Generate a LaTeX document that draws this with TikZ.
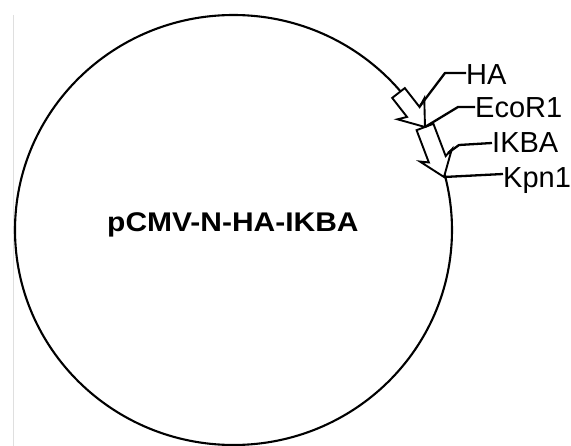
\documentclass[tikz,border=0pt]{standalone}
\usepackage{fontspec}
\setmainfont{Liberation Sans}
\usetikzlibrary{calc}
\tikzset{
  ring/.style={line width=2.1pt, black},
  block/.style={line width=1.9pt, fill=white, line join=miter},
  leader/.style={line width=2.3pt, line join=round},
  lbl/.style={anchor=base west, inner sep=0pt, font=\fontsize{29}{30}\selectfont},
}
% tail, tip, half body width, half head width, head length, barb sweep
\newcommand\blockarrow[6]{%
  \coordinate (bT) at (#1);
  \coordinate (bP) at (#2);
  \coordinate (bH) at ($(bP)!#5!(bT)$);
  \coordinate (bB) at ($(bP)!#5+#6!(bT)$);
  \draw[block] ($(bT)!#3!90:(bP)$) -- ($(bH)!#3!-90:(bT)$) -- ($(bB)!#4!-90:(bT)$)
     -- (bP) -- ($(bB)!#4!90:(bT)$) -- ($(bH)!#3!90:(bT)$) -- ($(bT)!#3!-90:(bP)$) -- cycle;
}
\begin{document}
\begin{tikzpicture}[x=1pt,y=-1pt]
\useasboundingbox (0,0) rectangle (571,446);
\fill[white] (0,0) rectangle (571,446);
\draw[gray!25, line width=0.8pt] (13,15) -- (13,446);
% plasmid ring
\draw[ring] (233.5,230) ellipse [x radius=218.5, y radius=215];
% sites on the ring
\coordinate (haStart) at (398.5,93);
\coordinate (eco) at (425,127);
\coordinate (kpn) at (444,177);
% feature arrows
\blockarrow{haStart}{eco}{8pt}{17pt}{19pt}{4pt}
\blockarrow{eco}{kpn}{9pt}{17pt}{19pt}{4pt}
% labels
\node[lbl] (lHA) at (466,85) {HA};
\node[lbl] (lEco) at (475,118) {EcoR1};
\node[lbl] (lIk) at (492,153) {IKBA};
\node[lbl] (lKpn) at (503,188) {Kpn1};
% leaders
\draw[leader] (420,106) -- (445,73) -- (lHA.base west |- 0,73);
\draw[leader] (eco) -- (458,107) -- (lEco.base west |- 0,107);
\draw[leader] (448,153) -- (459,145) -- (lIk.base west |- 0,143);
\draw[leader] (kpn) -- (lKpn.base west |- 0,174);
% title
\node[anchor=base west, inner sep=0pt, font=\bfseries\fontsize{27}{28}\selectfont] (title) at (107,232) {\scalebox{1.11}[1]{pCMV-N-HA-IKBA}};
\end{tikzpicture}
\end{document}
